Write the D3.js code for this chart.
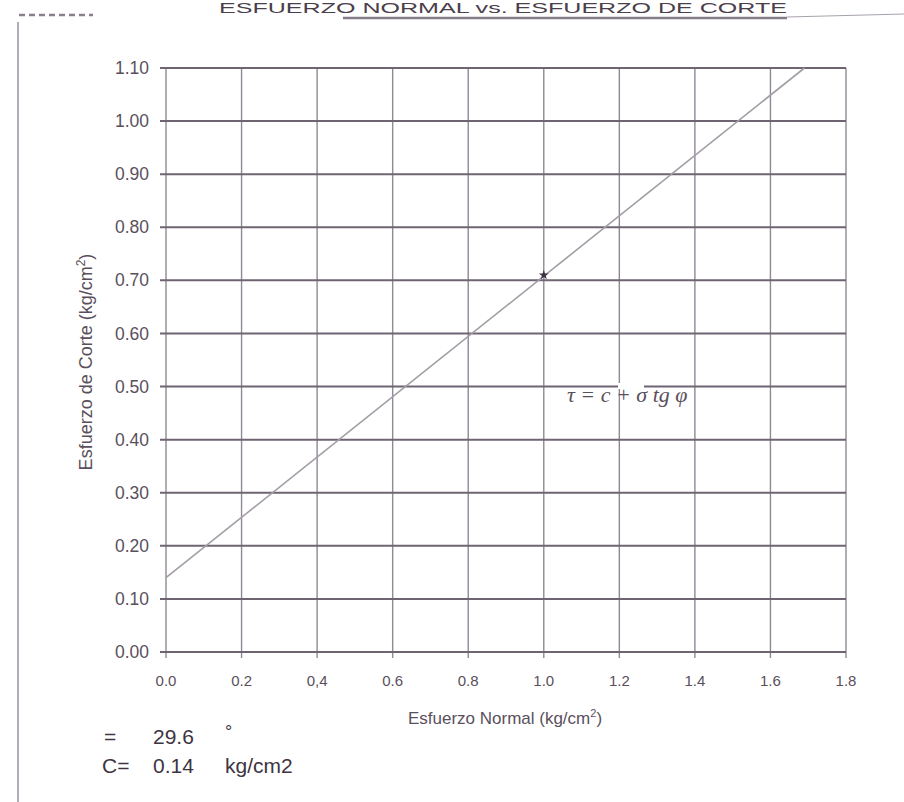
<!DOCTYPE html>
<html>
<head>
<meta charset="utf-8">
<script src="https://cdn.jsdelivr.net/npm/d3@7"></script>
<style>
  html, body { margin: 0; padding: 0; background: #ffffff; }
  svg { display: block; }
</style>
</head>
<body>
<svg id="chart" width="904" height="802"></svg>
<script>
// ---- data ----
const xTickValues = [0, 0.2, 0.4, 0.6, 0.8, 1.0, 1.2, 1.4, 1.6, 1.8];
const xTickLabels = ["0.0", "0.2", "0,4", "0.6", "0.8", "1.0", "1.2", "1.4", "1.6", "1.8"];
const yTickValues = [0, 0.1, 0.2, 0.3, 0.4, 0.5, 0.6, 0.7, 0.8, 0.9, 1.0, 1.1];
const yTickLabels = ["0.00", "0.10", "0.20", "0.30", "0.40", "0.50", "0.60", "0.70", "0.80", "0.90", "1.00", "1.10"];
const envelopeSigma = [0, 1.69];      // kg/cm2
const envelopeTau = [0.14, 1.10];     // kg/cm2
const pointSigma = [1.0];
const pointTau = [0.71];
const frictionAngle = "29.6";
const cohesion = "0.14";

const svg = d3.select("#chart");
const txt = "#5a505c";
const hGrid = "#6e6472";
const vGrid = "#918895";

const x = d3.scaleLinear().domain([0, 1.8]).range([166, 846]);
const y = d3.scaleLinear().domain([0, 1.1]).range([652, 68]);

// page decorations
svg.append("line").attr("x1", 18).attr("x2", 18).attr("y1", 22).attr("y2", 802)
  .attr("stroke", "#9a8f9c").attr("stroke-width", 1.5);
svg.append("line").attr("x1", 19).attr("x2", 93).attr("y1", 15).attr("y2", 15)
  .attr("stroke", "#8a7f8c").attr("stroke-width", 2.5).attr("stroke-dasharray", "6,4");
svg.append("text").attr("x", 503).attr("y", 13).attr("text-anchor", "middle")
  .attr("font-family", "Liberation Sans, Arial, sans-serif").attr("font-size", 15)
  .attr("fill", "#4a404c").attr("textLength", 568).attr("lengthAdjust", "spacingAndGlyphs")
  .text("ESFUERZO NORMAL vs. ESFUERZO DE CORTE");
svg.append("line").attr("x1", 343).attr("x2", 787).attr("y1", 18).attr("y2", 18)
  .attr("stroke", "#867b88").attr("stroke-width", 2.5);
svg.append("line").attr("x1", 787).attr("x2", 904).attr("y1", 17).attr("y2", 14)
  .attr("stroke", "#a9a1ab").attr("stroke-width", 1.2);

// vertical grid
svg.append("g").selectAll("line").data(xTickValues).join("line")
  .attr("x1", d => x(d)).attr("x2", d => x(d))
  .attr("y1", y(1.1)).attr("y2", y(0) + 6)
  .attr("stroke", vGrid).attr("stroke-width", 1.4);

// horizontal grid
svg.append("g").selectAll("line").data(yTickValues).join("line")
  .attr("x1", x(0) - 6).attr("x2", x(1.8))
  .attr("y1", d => y(d)).attr("y2", d => y(d))
  .attr("stroke", hGrid).attr("stroke-width", 2);

// y tick labels
svg.append("g").selectAll("text").data(yTickValues).join("text")
  .attr("x", 149).attr("y", d => y(d)).attr("dy", "0.35em")
  .attr("text-anchor", "end")
  .attr("font-family", "Liberation Sans, Arial, sans-serif").attr("font-size", 17.5)
  .attr("fill", txt)
  .text((d, i) => yTickLabels[i]);

// x tick labels
svg.append("g").selectAll("text").data(xTickValues).join("text")
  .attr("x", d => x(d)).attr("y", 681).attr("dy", "0.35em")
  .attr("text-anchor", "middle")
  .attr("font-family", "Liberation Sans, Arial, sans-serif").attr("font-size", 15)
  .attr("fill", txt)
  .text((d, i) => xTickLabels[i]);

// axis titles
const xt = svg.append("text").attr("x", 505).attr("y", 724).attr("text-anchor", "middle")
  .attr("font-family", "Liberation Sans, Arial, sans-serif").attr("font-size", 17)
  .attr("fill", txt);
xt.append("tspan").text("Esfuerzo Normal (kg/cm");
xt.append("tspan").attr("dy", -7).attr("font-size", 11).text("2");
xt.append("tspan").attr("dy", 7).text(")");

const yt = svg.append("text").attr("transform", "translate(92,362) rotate(-90)")
  .attr("text-anchor", "middle")
  .attr("font-family", "Liberation Sans, Arial, sans-serif").attr("font-size", 18)
  .attr("fill", txt);
yt.append("tspan").text("Esfuerzo de Corte (kg/cm");
yt.append("tspan").attr("dy", -7).attr("font-size", 12).text("2");
yt.append("tspan").attr("dy", 7).text(")");

// failure envelope
const env = envelopeSigma.map((s, i) => [s, envelopeTau[i]]);
svg.append("path").datum(env)
  .attr("d", d3.line().x(d => x(d[0])).y(d => y(d[1])))
  .attr("fill", "none").attr("stroke", "#a39ea6").attr("stroke-width", 1.6);

// test point
svg.append("g").selectAll("path").data(pointSigma).join("path")
  .attr("d", d3.symbol().type(d3.symbolStar).size(30))
  .attr("transform", (d, i) => `translate(${x(d)},${y(pointTau[i])})`)
  .attr("fill", "#3a3040");

// equation label
svg.append("rect").attr("x", 618).attr("y", 383).attr("width", 26).attr("height", 6).attr("fill", "#fff");
svg.append("text").attr("x", 567).attr("y", 402)
  .attr("font-family", "Liberation Serif, Times New Roman, serif").attr("font-style", "italic")
  .attr("font-size", 22).attr("fill", "#5a505c")
  .text("τ = c + σ tg φ");

// parameters
const pf = "Liberation Sans, Arial, sans-serif";
svg.append("text").attr("x", 104).attr("y", 744).attr("font-family", pf).attr("font-size", 21).attr("fill", "#3e3442").text("=");
svg.append("text").attr("x", 153).attr("y", 744).attr("font-family", pf).attr("font-size", 21).attr("fill", "#3e3442").text(frictionAngle);
svg.append("text").attr("x", 225).attr("y", 738).attr("font-family", pf).attr("font-size", 18).attr("fill", "#3e3442").text("°");
svg.append("text").attr("x", 102).attr("y", 773).attr("font-family", pf).attr("font-size", 21).attr("fill", "#3e3442").text("C=");
svg.append("text").attr("x", 153).attr("y", 773).attr("font-family", pf).attr("font-size", 21).attr("fill", "#3e3442").text(cohesion);
svg.append("text").attr("x", 225).attr("y", 773).attr("font-family", pf).attr("font-size", 21).attr("fill", "#3e3442").text("kg/cm2");
</script>
</body>
</html>
